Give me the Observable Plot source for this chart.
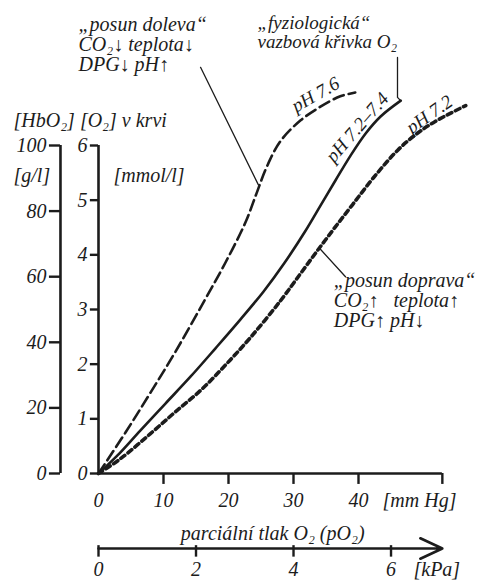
<!DOCTYPE html>
<html>
<head>
<meta charset="utf-8">
<script src="https://cdn.jsdelivr.net/npm/d3@7"></script>
<script src="https://cdn.jsdelivr.net/npm/@observablehq/plot@0.6"></script>
<style>
  html, body { margin: 0; padding: 0; background: #ffffff; }
  #chart svg { display: block; }
</style>
</head>
<body>
<div id="chart"></div>
<script>
// ---- data (pO2 in mm Hg, [O2] in mmol/l) ----
const pH76_pO2 = [0, 4.15, 8.0, 11.85, 16.15, 19.54, 22.6, 24.3, 25.85, 28.0, 31.1, 34.15, 37.2, 39.5];
const pH76_O2  = [0, 0.75, 1.48, 2.23, 3.13, 3.86, 4.59, 5.12, 5.60, 6.08, 6.46, 6.71, 6.90, 6.97];

const pH74_pO2 = [0, 2.92, 6.46, 10.3, 14.15, 18.0, 21.85, 25.4, 28.6, 31.85, 34.15, 36.45, 38.8, 41.1, 43.4, 46.5];
const pH74_O2  = [0, 0.33, 0.79, 1.28, 1.77, 2.29, 2.82, 3.33, 3.85, 4.44, 4.90, 5.36, 5.82, 6.22, 6.53, 6.82];

const pH72_pO2 = [0, 3.38, 8.0, 11.85, 15.7, 19.5, 23.4, 28.0, 31.1, 33.7, 36.5, 39.1, 42.3, 46.0, 48.8, 51.8, 56.5];
const pH72_O2  = [0, 0.27, 0.73, 1.13, 1.52, 1.98, 2.49, 3.16, 3.66, 4.08, 4.52, 4.92, 5.41, 5.91, 6.20, 6.44, 6.73];

// ---- tick labels ----
const hbTicks   = [0, 20, 40, 60, 80, 100];   // [HbO2] g/l
const o2Ticks   = [0, 1, 2, 3, 4, 5, 6];      // [O2] mmol/l
const mmHgTicks = [0, 10, 20, 30, 40];        // mm Hg
const kPaTicks  = [0, 2, 4, 6];               // kPa
const HB_PER_O2 = 100 / 6;                    // 100 g/l HbO2 <-> 6 mmol/l O2
const MMHG_PER_KPA = 7.50062;

// ---- texts ----
const leftNote  = ["„posun doleva“", "CO₂↓ teplota↓", "DPG↓ pH↑"];
const topNote   = ["„fyziologická“", "vazbová křivka O₂"];
const rightNote = ["„posun doprava“", "CO₂↑\u00A0\u00A0\u00A0teplota↑", "DPG↑ pH↓"];
const curveLabels = ["pH 7.6", "pH 7.2–7.4", "pH 7.2"];

// ---- build tables ----
const zip = (xs, ys) => xs.map((x, i) => ({x, y: ys[i]}));
const c76 = zip(pH76_pO2, pH76_O2);
const c74 = zip(pH74_pO2, pH74_O2);
const c72 = zip(pH72_pO2, pH72_O2);

// ---- layout (data units of the x = mm Hg and y = mmol/l scales) ----
const L = {
  hbAxisX: -5.85, hbTickX: -7.55, hbLabelX: -8.0,
  o2TickX: -1.25, o2LabelX: -1.7,
  xAxisEnd: 52.9, mmTickY: -0.2, mmLabelY: -0.49,
  titleY: -1.10, kpaY: -1.372, kpaTick1: -1.32, kpaTick2: -1.53, kpaLabelY: -1.75
};
const notes = [
  ...leftNote.map((t, i) => ({x: -3.08, y: 8.21 - i * 0.368, text: t})),
  ...rightNote.map((t, i) => ({x: 36.2, y: 3.53 - i * 0.368, text: t})),
  {x: -13.08, y: 6.46, text: "[HbO₂] [O₂] v krvi"},
  {x: -13.08, y: 5.45, text: "[g/l]"},
  {x: 2.31, y: 5.45, text: "[mmol/l]"},
  {x: 43.7, y: L.mmLabelY, text: "[mm Hg]"},
  {x: 48.46, y: L.kpaLabelY, text: "[kPa]"}
];
const topNotes = topNote.map((t, i) => ({x: 24.46, y: 8.25 - i * 0.35, text: t}));
const labelPos = [
  {x: 33.4, y: 6.93, r: -30},
  {x: 39.8, y: 6.33, r: -49},
  {x: 50.9, y: 6.57, r: -35}
].map((d, i) => ({...d, text: curveLabels[i]}));

const leaders = [
  [{x: 15.7, y: 7.43}, {x: 24.6, y: 5.28}],
  [{x: 46.0, y: 7.61}, {x: 46.0, y: 6.88}, {x: 46.5, y: 6.82}],
  [{x: 34.0, y: 4.12}, {x: 38.0, y: 3.60}]
];

const INK = "#1c1c1c";
const FONT = "'Liberation Serif', 'Times New Roman', serif";
const txt = {fontFamily: FONT, fontStyle: "italic", fill: INK};

const chart = Plot.plot({
  width: 484,
  height: 582,
  marginLeft: 98,
  marginRight: 93.5,
  marginTop: 145,
  marginBottom: 109,
  x: {domain: [0, 45], axis: null},
  y: {domain: [0, 6], axis: null},
  marks: [
    // HbO2 axis
    Plot.ruleX([L.hbAxisX], {y1: 0, y2: 6, stroke: INK, strokeWidth: 2.6}),
    Plot.ruleY(hbTicks, {y: d => d / HB_PER_O2, x1: () => L.hbTickX, x2: () => L.hbAxisX, stroke: INK, strokeWidth: 2.4}),
    Plot.text(hbTicks, {y: d => d / HB_PER_O2, x: () => L.hbLabelX, text: d => String(d), textAnchor: "end", fontSize: 20, ...txt}),
    // O2 axis
    Plot.ruleX([0], {y1: 0, y2: 6, stroke: INK, strokeWidth: 2.6}),
    Plot.ruleY(o2Ticks, {y: d => d, x1: () => L.o2TickX, x2: () => 0, stroke: INK, strokeWidth: 2.4}),
    Plot.text(o2Ticks, {y: d => d, x: () => L.o2LabelX, text: d => String(d), textAnchor: "end", fontSize: 20, ...txt}),
    // mm Hg axis
    Plot.ruleY([0], {x1: () => 0, x2: () => L.xAxisEnd, stroke: INK, strokeWidth: 2.6}),
    Plot.ruleX(mmHgTicks.slice(1).concat([L.xAxisEnd]), {x: d => d, y1: () => 0, y2: () => L.mmTickY, stroke: INK, strokeWidth: 2.4}),
    Plot.text(mmHgTicks, {x: d => d, y: () => L.mmLabelY, text: d => String(d), fontSize: 20, ...txt}),
    // kPa axis
    Plot.text(["parciální tlak O₂ (pO₂)"], {x: () => 26.8, y: () => L.titleY, text: d => d, fontSize: 20, ...txt}),
    Plot.arrow([0], {x1: () => 0, x2: () => L.xAxisEnd, y1: () => L.kpaY, y2: () => L.kpaY, stroke: INK, strokeWidth: 2.6, headLength: 14, headAngle: 50}),
    Plot.ruleX(kPaTicks, {x: d => d * MMHG_PER_KPA, y1: () => L.kpaTick1, y2: () => L.kpaTick2, stroke: INK, strokeWidth: 2.4}),
    Plot.text(kPaTicks, {x: d => d * MMHG_PER_KPA, y: () => L.kpaLabelY, text: d => String(d), fontSize: 20, ...txt}),
    // curves
    Plot.line(c76, {x: "x", y: "y", stroke: INK, strokeWidth: 2.6, strokeDasharray: "11,5", curve: "catmull-rom"}),
    Plot.line(c74, {x: "x", y: "y", stroke: INK, strokeWidth: 2.6, curve: "catmull-rom"}),
    Plot.line(c72, {x: "x", y: "y", stroke: INK, strokeWidth: 3.6, strokeDasharray: "5,4", curve: "catmull-rom"}),
    // leader lines
    ...leaders.map(seg => Plot.line(seg, {x: "x", y: "y", stroke: INK, strokeWidth: 1.3})),
    // annotations
    Plot.text(notes, {x: "x", y: "y", text: "text", textAnchor: "start", fontSize: 20, ...txt}),
    Plot.text(topNotes, {x: "x", y: "y", text: "text", textAnchor: "start", fontSize: 19, ...txt}),
    Plot.text(labelPos, {x: "x", y: "y", text: "text", rotate: d => d.r, fontSize: 19, ...txt})
  ]
});
document.getElementById("chart").appendChild(chart);
</script>
</body>
</html>
